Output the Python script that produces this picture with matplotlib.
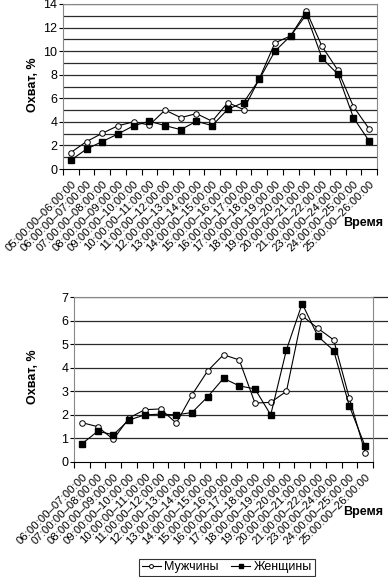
import numpy as np
import matplotlib.pyplot as plt

plt.rcParams['font.family'] = ['Liberation Sans', 'DejaVu Sans']

# top chart
top_labels = ['05:00:00–06:00:00', '06:00:00–07:00:00', '07:00:00–08:00:00',
              '08:00:00–09:00:00', '09:00:00–10:00:00', '10:00:00–11:00:00',
              '11:00:00–12:00:00', '12:00:00–13:00:00', '13:00:00–14:00:00',
              '14:00:00–15:00:00', '15:00:00–16:00:00', '16:00:00–17:00:00',
              '17:00:00–18:00:00', '18:00:00–19:00:00', '19:00:00–20:00:00',
              '20:00:00–21:00:00', '21:00:00–22:00:00', '23:00:00–24:00:00',
              '24:00:00–25:00:00', '25:00:00–26:00:00']
top_men = [1.4, 2.33, 3.03, 3.67, 4.0, 3.73, 5.0, 4.36, 4.7, 4.05,
           5.64, 5.04, 7.65, 10.7, 11.3, 13.4, 10.4, 8.4, 5.3, 3.4]
top_women = [0.75, 1.69, 2.33, 2.97, 3.67, 4.05, 3.68, 3.34, 4.05, 3.68,
             5.07, 5.64, 7.6, 10.0, 11.3, 13.1, 9.4, 8.05, 4.35, 2.37]

# bottom chart
bot_labels = top_labels[1:]
bot_men = [1.67, 1.5, 0.96, 1.87, 2.22, 2.25, 1.65, 2.85, 3.87, 4.55,
           4.33, 2.5, 2.53, 3.0, 6.2, 5.67, 5.18, 2.7, 0.4]
bot_women = [0.77, 1.3, 1.16, 1.78, 2.0, 2.03, 2.0, 2.1, 2.77, 3.55,
             3.23, 3.1, 2.0, 4.76, 6.72, 5.33, 4.73, 2.37, 0.67]

W, H = 388, 577
fig = plt.figure(figsize=(W / 100, H / 100), dpi=100)


def make_axes(l, r, t, b):
    return fig.add_axes([l / W, 1 - b / H, (r - l) / W, (b - t) / H])


def draw(ax, labels, men, women, ymax, extend_grid=False):
    n = len(labels)
    x = np.arange(n)
    ax.set_xlim(-0.5, n - 0.5)
    ax.set_ylim(0, ymax)
    for v in range(1, ymax + 1):
        ax.axhline(v, color='#2a2a2a', lw=0.9, zorder=1)
        if extend_grid:
            ax.plot([n - 0.5, n + 1.5], [v, v], color='#2a2a2a', lw=0.9,
                    clip_on=False, zorder=1)
    ax.plot(x, men, '-o', color='black', mfc='white', mec='black', ms=4,
            mew=0.7, lw=0.8, label='Мужчины', zorder=3)
    ax.plot(x, women, '-s', color='black', mfc='black', ms=4, lw=0.8,
            label='Женщины', zorder=3)
    for s in ['top', 'right', 'left']:
        ax.spines[s].set_color('#888888')
    ax.spines['bottom'].set_color('black')
    ax.set_yticks(range(0, ymax + 1, 2 if ymax > 7 else 1))
    ax.tick_params(axis='y', length=3, labelsize=9, pad=1)
    ax.set_xticks(np.arange(n + 1) - 0.5)
    ax.set_xticklabels([])
    ax.tick_params(axis='x', length=4, direction='out')
    ax.set_xticks(x, minor=True)
    ax.set_xticklabels(labels, minor=True, rotation=45, ha='right',
                       rotation_mode='anchor', fontsize=8.2)
    ax.tick_params(axis='x', which='minor', length=0, pad=7)


ax1 = make_axes(63, 377, 4, 169)
draw(ax1, top_labels, top_men, top_women, 14)
fig.text(33 / W, 1 - 85 / H, 'Охват, %', rotation=90, ha='center',
         va='center', fontsize=9, fontweight='bold')
fig.text(343 / W, 1 - 223 / H, 'Время', ha='left', va='center',
         fontsize=9, fontweight='bold')

ax2 = make_axes(74, 373, 297, 462)
draw(ax2, bot_labels, bot_men, bot_women, 7, extend_grid=True)
fig.text(33 / W, 1 - 377 / H, 'Охват, %', rotation=90, ha='center',
         va='center', fontsize=9, fontweight='bold')
fig.text(343 / W, 1 - 512 / H, 'Время', ha='left', va='center',
         fontsize=9, fontweight='bold')

handles, lbls = ax2.get_legend_handles_labels()
leg = fig.legend(handles, lbls, loc='center', bbox_to_anchor=(227 / W, 1 - 567 / H),
                 ncol=2, frameon=True, fancybox=False, fontsize=9,
                 handlelength=1.5, handletextpad=0.3, columnspacing=1.0,
                 borderpad=0.2, markerscale=0.7)
leg.get_frame().set_edgecolor('black')
leg.get_frame().set_linewidth(0.8)

fig.savefig('out.png', dpi=100)
